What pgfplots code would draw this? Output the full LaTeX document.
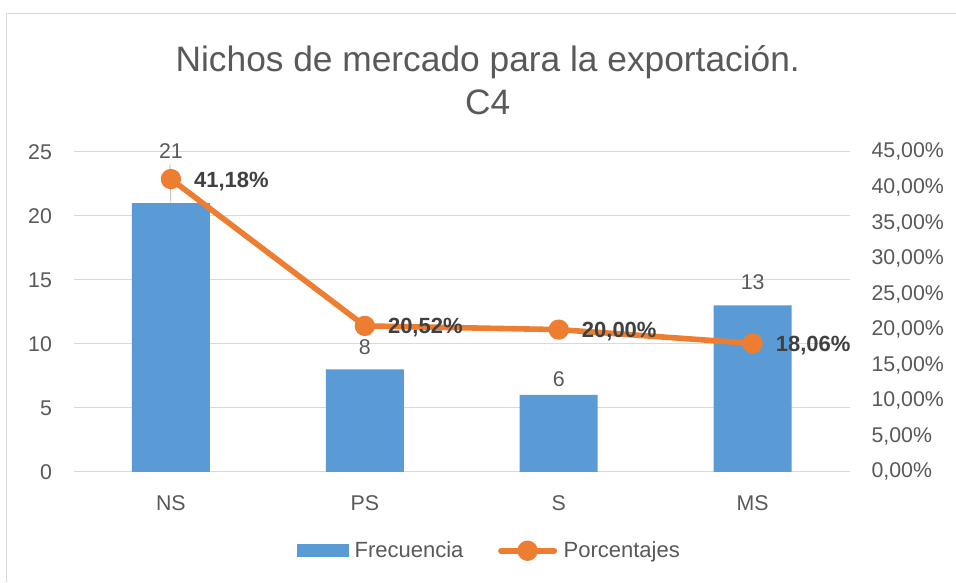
\documentclass[border=0pt]{standalone}
\usepackage{pgfplots}
\pgfplotsset{compat=1.18}
\usepackage{fontspec}
\setmainfont{Liberation Sans}
\definecolor{barblue}{HTML}{5B9BD5}
\definecolor{lineorange}{HTML}{ED7D31}
\definecolor{gridgray}{HTML}{D9D9D9}
\definecolor{txtgray}{HTML}{595959}
\definecolor{lblgray}{HTML}{404040}
\begin{document}
\begin{tikzpicture}
% canvas 956 x 582 px = 717pt x 436.5pt
\path[fill=white] (0pt,0pt) rectangle (717pt,436.5pt);
\draw[gridgray,line width=0.75pt] (5.25pt,0pt) -- (5.25pt,426pt) -- (717pt,426pt);
\node[txtgray,font=\fontsize{26.5}{30}\selectfont] at (366pt,390pt) {Nichos de mercado para la exportación.};
\node[txtgray,font=\fontsize{26.5}{30}\selectfont] at (366pt,360pt) {C4};
\begin{axis}[
  at={(55.5pt,82.5pt)}, anchor=south west,
  scale only axis, width=582pt, height=240pt,
  xmin=-0.5, xmax=3.5, ymin=0, ymax=25,
  xtick={0,1,2,3}, xticklabels={NS,PS,S,MS},
  ytick={0,5,10,15,20,25},
  axis x line*=bottom, axis y line*=left,
  x axis line style={draw=gridgray,line width=0.75pt},
  y axis line style={draw=none},
  ymajorgrids, grid style={gridgray,line width=0.75pt},
  major tick length=0pt,
  ticklabel style={txtgray,font=\fontsize{16}{18}\selectfont},
  yticklabel style={xshift=-13pt},
  xticklabel style={yshift=-14pt},
  /pgf/number format/assume math mode=true,
  clip=false,
  ]
  \addplot[ybar, bar width=58.5pt, fill=barblue, draw=none] coordinates {(0,21) (1,8) (2,6) (3,13)};
  \addplot[draw=none, mark=none, nodes near coords, point meta=explicit symbolic,
    nodes near coords align={center},
    every node near coord/.append style={txtgray,font=\fontsize{16}{18}\selectfont}]
    coordinates {(0,25.05)[21] (1,9.7)[8] (2,7.2)[6] (3,14.8)[13]};
  \draw[gray!70,line width=0.5pt] (axis cs:-0.005,24.0) -- (axis cs:0,21);
\end{axis}
\begin{axis}[
  at={(55.5pt,82.5pt)}, anchor=south west,
  scale only axis, width=582pt, height=240pt,
  xmin=-0.5, xmax=3.5, ymin=0, ymax=45,
  axis x line=none, axis y line*=right,
  y axis line style={draw=none},
  ytick={0,5,...,45},
  yticklabels={{0,00\%},{5,00\%},{10,00\%},{15,00\%},{20,00\%},{25,00\%},{30,00\%},{35,00\%},{40,00\%},{45,00\%}},
  yticklabel style={txtgray,font=\fontsize{16}{18}\selectfont,anchor=west,xshift=13pt},
  major tick length=0pt,
  clip=false,
  legend columns=2,
  legend style={at={(axis description cs:0.536,-0.247)}, anchor=center, draw=none, fill=none,
    font=\fontsize{16.5}{18}\selectfont, text=txtgray,
    /tikz/every even column/.append style={column sep=24pt},
    /tikz/every odd column/.append style={column sep=3pt}},
  ]
  \addlegendimage{legend image code/.code={\fill[barblue] (0pt,-4.5pt) rectangle (38pt,4.5pt);}}
  \addlegendentry{Frecuencia}
  \addplot[lineorange, line width=4.2pt, line join=round, mark=*, mark size=5.5pt,
    mark options={fill=lineorange,draw=none},
    legend image code/.code={\draw[lineorange,line width=4.2pt,line cap=round] (0pt,0pt) -- (40pt,0pt); \fill[lineorange] (20pt,0pt) circle (5.5pt);},
    nodes near coords, point meta=explicit symbolic,
    every node near coord/.append style={anchor=west, xshift=12pt, yshift=-1.5pt, text=lblgray, font=\bfseries\fontsize{16.5}{18}\selectfont}]
    coordinates {(0,41.18)[41,18\%] (1,20.52)[20,52\%] (2,20.00)[20,00\%] (3,18.06)[18,06\%]};
  \addlegendentry{Porcentajes}
\end{axis}
\end{tikzpicture}
\end{document}
